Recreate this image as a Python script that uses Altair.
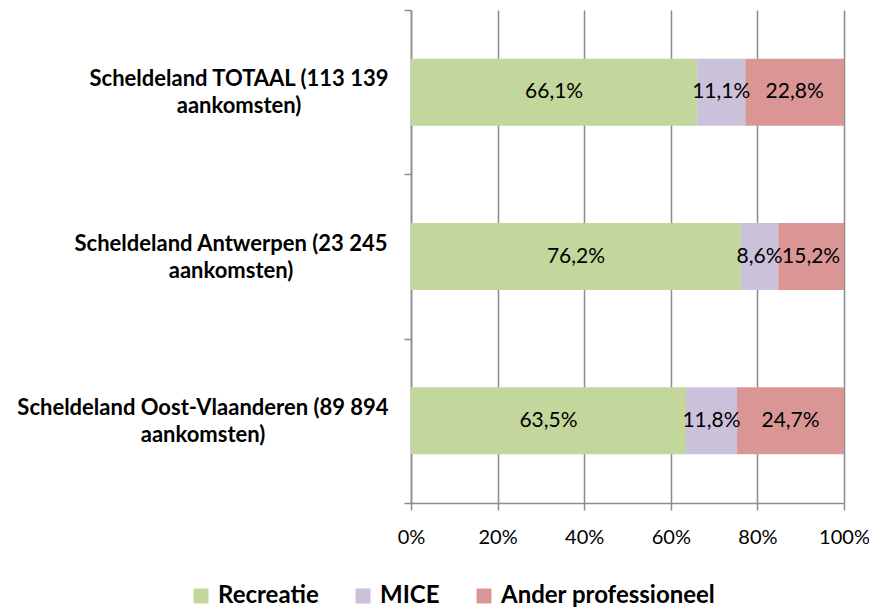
import altair as alt
import pandas as pd

categories = [
    "Scheldeland TOTAAL (113 139\naankomsten)",
    "Scheldeland Antwerpen (23 245\naankomsten)",
    "Scheldeland Oost-Vlaanderen (89 894\naankomsten)",
]
series = ["Recreatie", "MICE", "Ander professioneel"]
recreatie = [66.1, 76.2, 63.5]
mice = [11.1, 8.6, 11.8]
ander = [22.8, 15.2, 24.7]
colors = ["#C3D69B", "#CCC1DA", "#D99694"]
x_ticks = [0, 20, 40, 60, 80, 100]

rows = []
for i, cat in enumerate(categories):
    start = 0.0
    for j, (name, vals) in enumerate(zip(series, [recreatie, mice, ander])):
        v = vals[i]
        rows.append({
            "cat": cat,
            "series": name,
            "order": j,
            "value": v,
            "start": start,
            "end": start + v,
            "mid": start + v / 2,
            "label": f"{v:.1f}".replace(".", ",") + "%",
        })
        start += v
df = pd.DataFrame(rows)
cat_df = pd.DataFrame({"cat": categories})

GRID = "#8c8c8c"
FONT = "Lato"

y_scale = alt.Scale(domain=categories, paddingInner=0, paddingOuter=0)

y_enc = alt.Y(
    "cat:N",
    sort=categories,
    scale=y_scale,
    axis=alt.Axis(
        title=None,
        labels=False,
        tickBand="extent",
        tickSize=7,
        tickColor=GRID,
        tickWidth=1.5,
        domainColor=GRID,
        domainWidth=1.5,
        grid=False,
    ),
)

x_scale = alt.Scale(domain=[0, 100], nice=False, zero=True)

bars = alt.Chart(df).mark_bar(height={"band": 0.408}).encode(
    x=alt.X(
        "start:Q",
        scale=x_scale,
        axis=alt.Axis(
            title=None,
            values=x_ticks,
            labelExpr="datum.value + '%'",
            labelFont=FONT,
            labelFontSize=20,
            labelColor="black",
            labelPadding=17,
            labelFlush=False,
            grid=True,
            gridColor=GRID,
            gridWidth=1.5,
            tickSize=7,
            tickColor=GRID,
            tickWidth=1.5,
            domainColor=GRID,
            domainWidth=1.5,
        ),
    ),
    x2="end:Q",
    y=y_enc,
    color=alt.Color(
        "series:N",
        sort=series,
        scale=alt.Scale(domain=series, range=colors),
        legend=alt.Legend(
            title=None,
            orient="none",
            direction="horizontal",
            legendX=-222,
            legendY=574,
            symbolType="square",
            symbolSize=225,
            symbolStrokeWidth=0,
            labelFont=FONT,
            labelFontWeight="bold",
            labelFontSize=24,
            labelColor="black",
            labelOffset=5,
            columnPadding=32,
            labelLimit=0,
        ),
    ),
    order=alt.Order("order:Q"),
)

texts = alt.Chart(df).mark_text(font=FONT, fontSize=21, color="black").encode(
    x=alt.X("mid:Q", scale=x_scale),
    y=alt.Y("cat:N", sort=categories, scale=y_scale),
    text="label:N",
)

cat_labels = alt.Chart(cat_df).mark_text(
    font=FONT,
    fontSize=22,
    fontWeight="bold",
    color="black",
    align="center",
    baseline="middle",
    lineBreak="\n",
    lineHeight=27,
    dy=-13,
).encode(
    x=alt.value(alt.expr(
        "indexof(datum.cat, 'TOTAAL') >= 0 ? -172 : "
        "(indexof(datum.cat, 'Antwerpen') >= 0 ? -180 : -208)"
    )),
    y=alt.Y("cat:N", sort=categories, scale=y_scale),
    text="cat:N",
)

chart = (
    alt.layer(bars, texts, cat_labels)
    .properties(
        width=433,
        height=493,
        autosize=alt.AutoSizeParams(type="none"),
        padding={"left": 403, "top": 2, "right": 25, "bottom": 104},
    )
    .configure_view(stroke=None)
)

chart.save("out.html", embed_options={"renderer": "svg", "actions": False})
